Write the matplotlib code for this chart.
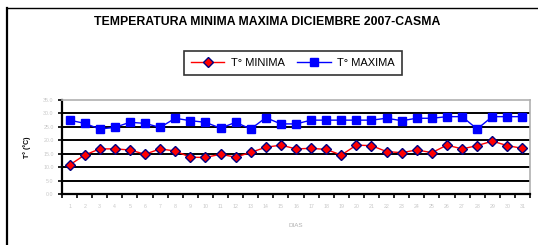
"""
    Temperatura minima / maxima, diciembre 2007 - Casma
"""
import matplotlib
matplotlib.use('Agg')
import matplotlib.pyplot as plt
from matplotlib.lines import Line2D
from matplotlib.ticker import FixedLocator

plt.rcParams['font.family'] = ['Liberation Sans', 'DejaVu Sans']

# datos
DIAS = list(range(1, 32))
T_MINIMA = [10.8, 14.5, 16.8, 16.8, 16.4, 14.8, 16.8, 16.0, 13.7, 13.6,
            14.8, 13.7, 15.5, 17.4, 18.2, 16.8, 17.0, 16.6, 14.5, 18.2,
            18.0, 15.8, 15.4, 16.4, 15.4, 18.2, 16.8, 18.0, 19.7, 18.0, 17.0]
T_MAXIMA = [27.5, 26.3, 24.2, 24.8, 26.7, 26.3, 24.8, 28.2, 27.3, 26.7,
            24.5, 26.7, 24.2, 28.4, 26.1, 26.1, 27.5, 27.5, 27.5, 27.5,
            27.5, 28.2, 27.3, 28.2, 28.2, 28.8, 28.8, 24.2, 28.8, 28.8, 28.8]
Y_TICKS = [0, 5, 10, 15, 20, 25, 30, 35]

TITULO = 'TEMPERATURA MINIMA MAXIMA DICIEMBRE 2007-CASMA'


def main():
    W, H = 538, 245
    fig = plt.figure(figsize=(W / 100, H / 100), dpi=100)

    # marco exterior del grafico
    fig.add_artist(Line2D([7 / W, 7 / W], [0, 1 - 8 / H], color='black', lw=1.6))
    fig.add_artist(Line2D([7 / W, 1], [1 - 8 / H, 1 - 8 / H], color='black', lw=1.0))

    ax = fig.add_axes([62 / W, 1 - 194 / H, (530 - 62) / W, (194 - 100) / H])

    # lineas de division horizontales
    for y in Y_TICKS[1:-1]:
        ax.axhline(y, color='black', lw=1.4, zorder=1)

    ax.plot(DIAS, T_MINIMA, color='red', lw=1.0, marker='D', markersize=5,
            markerfacecolor='red', markeredgecolor='#000080', markeredgewidth=1.0,
            label='T° MINIMA', zorder=3)
    ax.plot(DIAS, T_MAXIMA, color='blue', lw=1.0, marker='s', markersize=6,
            markerfacecolor='blue', markeredgecolor='blue',
            label='T° MAXIMA', zorder=3)

    ax.set_xlim(0.5, 31.5)
    ax.set_ylim(0, 35)

    ax.set_xticks(DIAS)
    ax.set_xticklabels([str(d) for d in DIAS])
    ax.xaxis.set_minor_locator(FixedLocator([d + 0.5 for d in range(0, 32)]))
    ax.tick_params(axis='x', which='major', length=0, pad=7, labelsize=3.8,
                   labelcolor='#c8c8c8')
    ax.tick_params(axis='x', which='minor', length=3, width=1.2, color='black')
    ax.set_yticks(Y_TICKS)
    ax.set_yticklabels(['%.1f' % v for v in Y_TICKS])
    ax.tick_params(axis='y', length=3, width=1.2, color='black', labelsize=3.8,
                   labelcolor='#c8c8c8', pad=3)

    for side in ['top', 'right']:
        ax.spines[side].set_color('#b0b0b0')
        ax.spines[side].set_linewidth(1.2)
    for side in ['left', 'bottom']:
        ax.spines[side].set_color('black')
        ax.spines[side].set_linewidth(1.6)

    ax.set_xlabel('DIAS', fontsize=4.5, color='#b0b0b0', labelpad=10)
    ax.set_ylabel('T° (°C)', fontsize=5, fontweight='bold', labelpad=9)

    fig.text(267 / W, 1 - 22 / H, TITULO, ha='center', va='center',
             fontsize=8.8, fontweight='bold')

    leg = fig.legend(loc='center', bbox_to_anchor=(293 / W, 1 - 63 / H), ncol=2,
                     fontsize=8, frameon=True, fancybox=False, edgecolor='black',
                     handlelength=3.0, handletextpad=0.6, columnspacing=1.1,
                     borderpad=0.65)
    leg.get_frame().set_linewidth(1.2)

    plt.savefig('out.png', dpi=100)


if __name__ == '__main__':
    main()
